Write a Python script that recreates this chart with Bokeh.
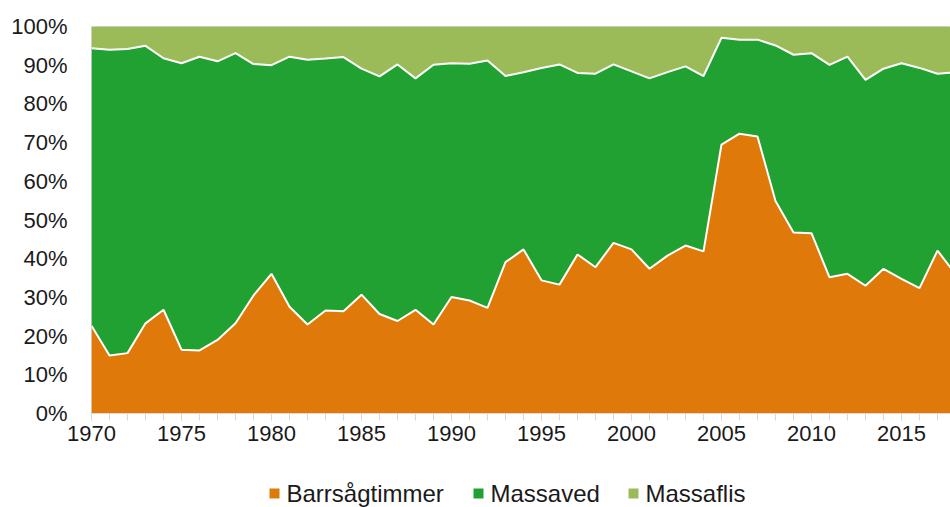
from bokeh.plotting import figure
from bokeh.layouts import column
from bokeh.core.properties import value
from bokeh.models import (ColumnDataSource, Range1d, FixedTicker, NumeralTickFormatter)
from bokeh.embed import file_html
from bokeh.resources import INLINE

years = list(range(1970, 2019))
barrsagtimmer = [22.7, 15.0, 15.6, 23.3, 26.8, 16.5, 16.3, 19.0, 23.3, 30.5,
                 36.1, 27.6, 23.0, 26.6, 26.4, 30.7, 25.7, 23.9, 26.8, 23.0,
                 30.1, 29.2, 27.3, 39.1, 42.4, 34.4, 33.3, 41.1, 37.8, 44.1,
                 42.4, 37.4, 40.8, 43.4, 41.9, 69.5, 72.3, 71.6, 54.9, 46.8,
                 46.6, 35.2, 36.1, 33.0, 37.4, 34.8, 32.4, 42.1, 36.0]
massaved = [71.7, 79.0, 78.6, 71.7, 65.0, 74.0, 75.9, 72.0, 69.8, 59.8,
            53.9, 64.6, 68.4, 65.1, 65.7, 58.4, 61.4, 66.3, 59.8, 67.1,
            60.4, 61.2, 63.9, 48.1, 45.8, 54.9, 56.9, 46.9, 50.0, 46.1,
            46.0, 49.2, 47.4, 46.3, 45.3, 27.6, 24.3, 25.0, 40.2, 45.9,
            46.5, 54.9, 56.1, 53.2, 51.7, 55.7, 56.9, 45.7, 52.2]
massaflis = [5.6, 6.0, 5.8, 5.0, 8.2, 9.5, 7.8, 9.0, 6.9, 9.7,
             10.0, 7.8, 8.6, 8.3, 7.9, 10.9, 12.9, 9.8, 13.4, 9.9,
             9.5, 9.6, 8.8, 12.8, 11.8, 10.7, 9.8, 12.0, 12.2, 9.8,
             11.6, 13.4, 11.8, 10.3, 12.8, 2.9, 3.4, 3.4, 4.9, 7.3,
             6.9, 9.9, 7.8, 13.8, 10.9, 9.5, 10.7, 12.2, 11.8]
series_names = ["Barrsågtimmer", "Massaved", "Massaflis"]
colors = ["#DF7A0A", "#21A131", "#9BBB59"]
x_tick_labels = [1970, 1975, 1980, 1985, 1990, 1995, 2000, 2005, 2010, 2015]

totals = [a + b + c for a, b, c in zip(barrsagtimmer, massaved, massaflis)]
src = ColumnDataSource(dict(
    year=years,
    s0=[a / t for a, t in zip(barrsagtimmer, totals)],
    s1=[a / t for a, t in zip(massaved, totals)],
    s2=[a / t for a, t in zip(massaflis, totals)],
))

font = "Liberation Sans"
W = 950
H_MAIN = 470
H_LEG = 37

p = figure(width=W, height=H_MAIN, output_backend="svg", toolbar_location=None,
           x_range=Range1d(1970, 1970 + 859 / 18), y_range=Range1d(0, 1),
           min_border_left=91, min_border_right=0, min_border_top=26,
           min_border_bottom=57)
p.background_fill_color = "white"
p.border_fill_color = "white"
p.outline_line_color = "#D9D9D9"
p.grid.visible = False

areas = p.varea_stack(["s0", "s1", "s2"], x="year", source=src, color=colors)
p.vline_stack(["s0", "s1"], x="year", source=src, color="white", line_width=2)

xa = p.xaxis[0]
xa.ticker = FixedTicker(ticks=x_tick_labels, minor_ticks=years)
xa.axis_line_color = "#D9D9D9"
xa.major_tick_line_color = "#D9D9D9"
xa.minor_tick_line_color = "#D9D9D9"
xa.major_tick_out = 7
xa.major_tick_in = 0
xa.minor_tick_out = 7
xa.minor_tick_in = 0
xa.major_label_text_font = font
xa.major_label_text_font_size = "22px"
xa.major_label_text_color = "#1a1a1a"
xa.major_label_standoff = 5

ya = p.yaxis[0]
ya.ticker = FixedTicker(ticks=[i / 10 for i in range(11)])
ya.formatter = NumeralTickFormatter(format="0%")
ya.axis_line_color = None
ya.major_tick_line_color = None
ya.minor_tick_line_color = None
ya.major_label_text_font = font
ya.major_label_text_font_size = "22px"
ya.major_label_text_color = "#1a1a1a"
ya.major_label_standoff = 18

# legend strip (its frame is aligned with the main frame, which spans page x 91..950)
leg = figure(width=W, height=H_LEG, output_backend="svg", toolbar_location=None,
             x_range=Range1d(91, W), y_range=Range1d(0, H_LEG),
             min_border=0, min_border_left=91, outline_line_color=None)
leg.axis.visible = False
leg.grid.visible = False
leg_src = ColumnDataSource(dict(
    name=series_names, color=colors,
    sx=[274, 478, 633], tx=[286, 490, 645], y=[14, 14, 14],
))
leg.rect(x="sx", y="y", width=10, height=10, fill_color="color", line_color=None,
         source=leg_src)
leg.text(x="tx", y="y", text="name", source=leg_src, text_font=value(font),
         text_font_size="24px", text_baseline="middle", text_align="left",
         text_color="#1a1a1a")

layout = column(p, leg, spacing=0)
open("out.html", "w").write(file_html(layout, INLINE))
